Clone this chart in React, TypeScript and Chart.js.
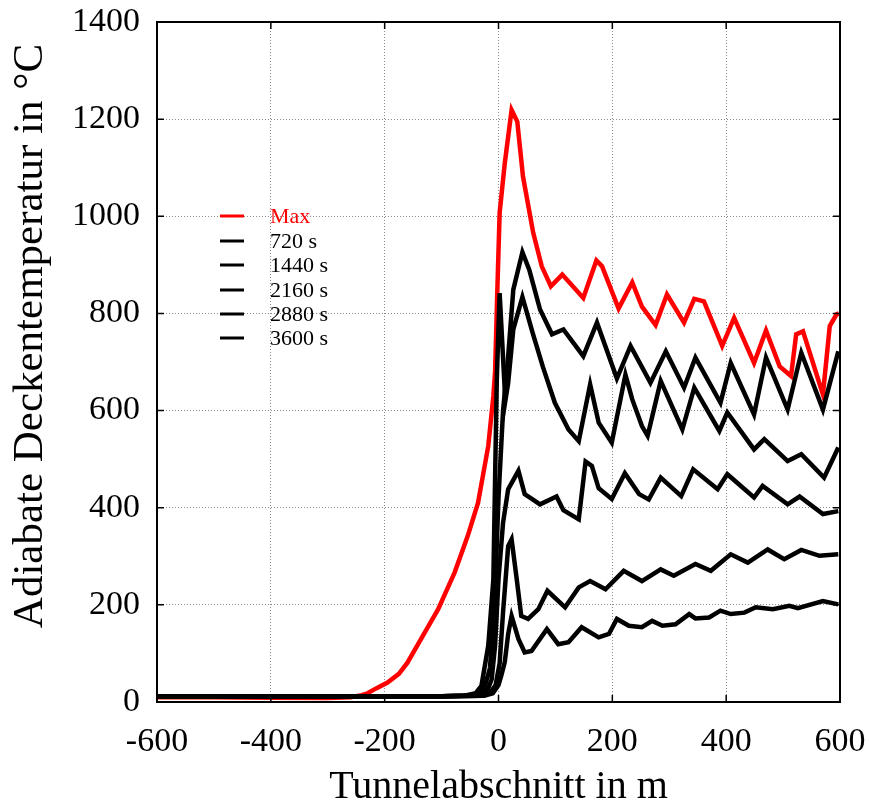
import React, { useEffect, useRef } from "react";
import { Chart, registerables } from "chart.js";

Chart.register(...registerables);

// ---- data ----
const xTickValues = [-600, -400, -200, 0, 200, 400, 600];
const yTickValues = [0, 200, 400, 600, 800, 1000, 1200, 1400];
const seriesLabels = ["Max", "720 s", "1440 s", "2160 s", "2880 s", "3600 s"];
const xAxisTitle = "Tunnelabschnitt in m";
const yAxisTitle = "Adiabate Deckentemperatur in °C";

const maxX = [-600, -500, -400, -300, -260, -240, -230, -215, -195, -175, -160, -136, -106, -77, -54, -36, -18, -9, -6, -2, 2, 11, 23, 33, 43, 61, 76, 92, 112, 149, 172, 182, 211, 235, 252, 276, 296, 326, 344, 361, 393, 414, 449, 470, 494, 514, 523, 535, 570, 582, 594, 598];
const maxT = [10, 10, 9, 8, 10, 14, 18, 28, 40, 58, 81, 130, 191, 267, 342, 410, 527, 630, 680, 850, 1007, 1109, 1219, 1195, 1082, 966, 897, 856, 880, 832, 909, 897, 810, 864, 814, 776, 839, 781, 830, 825, 733, 791, 698, 765, 691, 671, 757, 763, 633, 774, 798, 800];

// 720 s
const s720X = [-600, -300, -100, -25, -10, 0, 5, 11, 17, 23, 35, 46, 58, 85, 105, 123, 146, 176, 194, 208, 229, 252, 270, 288, 311, 335, 346, 370, 390, 408, 432, 452, 482, 511, 526, 570, 597];
const s720T = [12, 12, 12, 13, 18, 35, 55, 82, 140, 177, 130, 102, 105, 150, 119, 123, 154, 133, 140, 171, 157, 154, 167, 157, 160, 181, 172, 174, 188, 181, 184, 195, 191, 198, 193, 208, 201];

// 1440 s
const s1440X = [-600, -300, -100, -30, -15, -5, 2, 8, 17, 23, 32, 40, 52, 70, 86, 117, 141, 161, 188, 220, 252, 285, 308, 346, 373, 408, 438, 473, 502, 532, 564, 597];
const s1440T = [12, 12, 12, 13, 18, 35, 80, 185, 321, 335, 253, 177, 171, 191, 229, 195, 236, 249, 232, 270, 249, 273, 260, 284, 270, 304, 287, 314, 294, 313, 301, 304];

// 2160 s
const s2160X = [-600, -300, -100, -35, -20, -12, -6, 0, 8, 17, 35, 46, 73, 102, 114, 141, 153, 164, 176, 199, 222, 247, 264, 285, 321, 342, 385, 402, 449, 464, 508, 529, 570, 597];
const s2160T = [12, 12, 12, 13, 22, 47, 116, 253, 369, 438, 476, 428, 407, 423, 395, 376, 495, 486, 440, 418, 471, 428, 417, 462, 424, 479, 438, 469, 421, 445, 407, 423, 387, 393];

// 2880 s
const s2880X = [-600, -300, -100, -60, -40, -30, -18, -9, -6, -3, 2, 12, 17, 26, 42, 60, 78, 99, 123, 141, 161, 176, 199, 223, 235, 252, 262, 285, 323, 344, 388, 402, 449, 467, 508, 532, 572, 597];
const s2880T = [12, 12, 12, 13, 18, 33, 116, 253, 458, 664, 842, 620, 657, 767, 834, 760, 690, 616, 561, 537, 654, 575, 534, 674, 623, 568, 548, 661, 561, 647, 558, 596, 520, 541, 496, 510, 462, 524];

// 3600 s
const s3600X = [-600, -300, -100, -40, -25, -15, -7, 0, 8, 17, 26, 42, 54, 73, 94, 114, 149, 173, 208, 232, 267, 294, 326, 346, 390, 408, 449, 470, 508, 532, 570, 597];
const s3600T = [12, 12, 12, 14, 28, 70, 200, 420, 600, 712, 849, 926, 890, 808, 757, 767, 712, 781, 666, 733, 657, 722, 647, 709, 616, 698, 592, 709, 602, 719, 602, 722];

const seriesX = [maxX, s720X, s1440X, s2160X, s2880X, s3600X];
const seriesT = [maxT, s720T, s1440T, s2160T, s2880T, s3600T];
const seriesColors = ["#ff0000", "#000000", "#000000", "#000000", "#000000", "#000000"];

const FONT = "'Liberation Serif', 'Times New Roman', serif";

const framePlugin = {
  id: "frameTicks",
  afterDatasetsDraw(chart: any) {
    const { ctx, chartArea, scales } = chart;
    const { left, right, top, bottom } = chartArea;
    const xs = scales.x;
    const ys = scales.y;
    ctx.save();
    ctx.strokeStyle = "#000";
    ctx.lineWidth = 1.5;
    ctx.beginPath();
    for (const v of xTickValues) {
      const px = xs.getPixelForValue(v);
      ctx.moveTo(px, bottom);
      ctx.lineTo(px, bottom - 7);
      ctx.moveTo(px, top);
      ctx.lineTo(px, top + 7);
    }
    for (const v of yTickValues) {
      const py = ys.getPixelForValue(v);
      ctx.moveTo(left, py);
      ctx.lineTo(left + 7, py);
      ctx.moveTo(right, py);
      ctx.lineTo(right - 7, py);
    }
    ctx.stroke();
    ctx.lineWidth = 2;
    ctx.strokeRect(left, top, right - left, bottom - top);
    ctx.restore();
  },
  afterDraw(chart: any) {
    const { ctx } = chart;
    ctx.save();
    // legend
    const legendY = [216, 241, 265, 290, 314, 338];
    ctx.font = `22px ${FONT}`;
    ctx.textBaseline = "middle";
    ctx.textAlign = "left";
    seriesLabels.forEach((lab, i) => {
      ctx.strokeStyle = seriesColors[i];
      ctx.lineWidth = 3;
      ctx.beginPath();
      ctx.moveTo(220, legendY[i]);
      ctx.lineTo(244, legendY[i]);
      ctx.stroke();
      ctx.fillStyle = seriesColors[i];
      ctx.fillText(lab, 270, legendY[i] + 1);
    });
    // y axis title
    ctx.translate(31, 336);
    ctx.rotate(-Math.PI / 2);
    ctx.font = `43px ${FONT}`;
    ctx.fillStyle = "#000";
    ctx.textAlign = "center";
    ctx.textBaseline = "middle";
    ctx.fillText(yAxisTitle, 0, 0);
    ctx.restore();
  },
};

export default function App() {
  const ref = useRef<HTMLCanvasElement | null>(null);
  useEffect(() => {
    document.body.style.margin = "0";
    const canvas = ref.current!;
    const datasets = seriesLabels.map((label, i) => ({
      label,
      data: seriesX[i].map((x, j) => ({ x, y: seriesT[i][j] })),
      borderColor: seriesColors[i],
      backgroundColor: seriesColors[i],
      borderWidth: 4.5,
      pointRadius: 0,
      tension: 0,
      fill: false,
      order: i === 0 ? 10 : 6 - i,
    }));
    const chart = new Chart(canvas, {
      type: "line",
      data: { datasets },
      options: {
        responsive: false,
        maintainAspectRatio: false,
        devicePixelRatio: 1,
        animation: false,
        layout: { padding: { top: 22, right: 29, left: 0, bottom: 0 } },
        plugins: {
          legend: { display: false },
          tooltip: { enabled: false },
          title: { display: false },
        },
        scales: {
          x: {
            type: "linear",
            min: -600,
            max: 600,
            afterFit: (s: any) => {
              s.height = 105;
              s.paddingLeft = 0;
              s.paddingRight = 0;
            },
            afterBuildTicks: (s: any) => {
              s.ticks = xTickValues.map((v) => ({ value: v }));
            },
            ticks: {
              color: "#000",
              font: { family: FONT, size: 34 },
              padding: 20,
              maxRotation: 0,
              autoSkip: false,
              callback: (v: any) => String(v),
            },
            grid: { color: "#8a8a8a", lineWidth: 1, drawTicks: false },
            border: { display: false, dash: [1, 2] },
            title: {
              display: true,
              text: xAxisTitle,
              color: "#000",
              font: { family: FONT, size: 40, lineHeight: 1 },
              padding: { top: 0, bottom: 0 },
            },
          },
          y: {
            type: "linear",
            min: 0,
            max: 1400,
            afterFit: (s: any) => {
              s.width = 157;
              s.paddingTop = 0;
              s.paddingBottom = 0;
            },
            afterBuildTicks: (s: any) => {
              s.ticks = yTickValues.map((v) => ({ value: v }));
            },
            ticks: {
              color: "#000",
              font: { family: FONT, size: 34 },
              padding: 17,
              autoSkip: false,
              callback: (v: any) => String(v),
            },
            grid: { color: "#8a8a8a", lineWidth: 1, drawTicks: false },
            border: { display: false, dash: [1, 2] },
          },
        },
      },
      plugins: [framePlugin],
    });
    return () => chart.destroy();
  }, []);
  return <canvas ref={ref} width={869} height={807} style={{ display: "block", width: 869, height: 807 }} />;
}
